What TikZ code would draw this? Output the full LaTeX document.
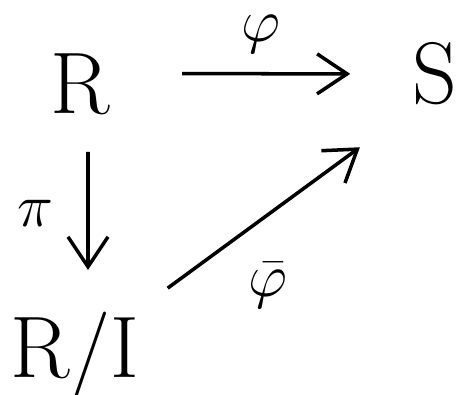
\documentclass[tikz,border=0pt]{standalone}
\usepackage{tikz}
\usetikzlibrary{arrows.meta,positioning}

\begin{document}
\begin{tikzpicture}[every node/.style={font=\Huge, align=center},
    map/.style={line width=1pt, -{Straight Barb[length=3mm, width=4mm]}},
    maplabel/.style={font=\LARGE}]
    \useasboundingbox (0,0) rectangle (4.59,3.94);
    \node (R) at (0.80,3.10) {R};
    \node (S) at (4.35,3.20) {S};
    \node (RI) at (0.75,0.38) {R/I};

    \draw[map, shorten <=0.6cm, shorten >=0.5cm] ([yshift=3pt]R.east) -- ([yshift=0pt]S.west)
        node[maplabel, midway, above=2pt] (phi) {$\varphi$};
    \draw[map, shorten <=0.25cm, shorten >=0.3cm] ([xshift=0.08cm]R.south) -- ([xshift=0.13cm]RI.north)
        node[maplabel, midway, left=6pt] (pi) {$\pi$};
    \draw[map, shorten <=0.2cm, shorten >=0.5cm] (RI.north east) -- (S.south west)
        node[maplabel, pos=0.47, below=10pt] (phibar) {$\bar{\varphi}$};
\end{tikzpicture}
\end{document}
